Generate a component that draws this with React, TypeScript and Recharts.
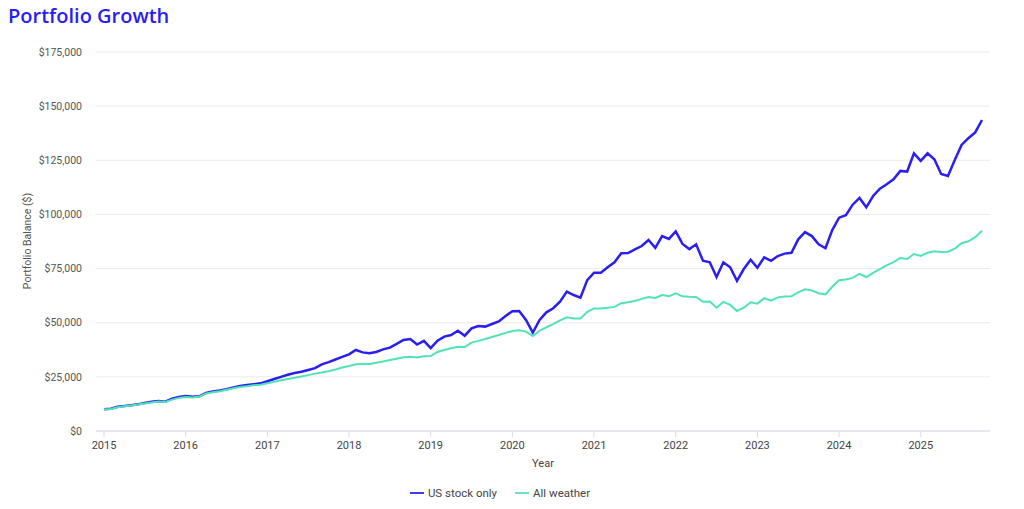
import { LineChart, Line, XAxis, YAxis, CartesianGrid, Legend } from 'recharts';

// monthly balances, Jan 2015 .. Oct 2025
const startYear = 2015;

const usStockOnly = [
  10000, 10300, 11200, 11500, 11900, 12300, 12900, 13500, 13800, 13500, 14900, 15700,
  16100, 15800, 16000, 17600, 18200, 18700, 19300, 20100, 20800, 21200, 21600, 22000,
  23000, 24000, 25000, 26000, 26800, 27400, 28200, 29000, 30800, 31800, 33000, 34200,
  35400, 37400, 36300, 35900, 36500, 37700, 38500, 40200, 42000, 42500, 39900, 41600,
  38300, 41700, 43600, 44300, 46300, 44000, 47400, 48500, 48200, 49400, 50600, 53100,
  55300, 55400, 51300, 45400, 51300, 54800, 56700, 59700, 64400, 62800, 61600, 69700,
  73100, 73100, 75600, 77900, 82100, 82200, 83900, 85400, 88200, 84600, 90000, 88700,
  92200, 86400, 84000, 86200, 78600, 77900, 71100, 77900, 75600, 69300, 74800, 79100,
  75400, 80200, 78600, 80800, 81900, 82300, 88500, 91800, 90000, 86200, 84400, 92800,
  98500, 99600, 104500, 107600, 103300, 108500, 111900, 113900, 116200, 120100, 119800, 128200,
  124700, 128200, 125500, 118700, 117800, 125100, 132100, 135200, 137900, 143600,
];

const allWeather = [
  10000, 10200, 11000, 11400, 11800, 12200, 12700, 13200, 13600, 13400, 14500, 15300,
  15700, 15500, 15900, 17300, 17900, 18400, 19000, 19700, 20300, 20700, 21100, 21400,
  22000, 22700, 23400, 24000, 24600, 25200, 25800, 26500, 27000, 27600, 28400, 29300,
  30000, 30800, 30900, 30900, 31500, 32100, 32800, 33400, 34000, 34300, 33900, 34500,
  34600, 36500, 37400, 38200, 38900, 38800, 40800, 41600, 42500, 43400, 44300, 45300,
  46200, 46500, 45900, 43900, 46300, 47900, 49300, 51100, 52500, 52000, 51900, 55000,
  56600, 56600, 56900, 57300, 59000, 59400, 60000, 61000, 61900, 61400, 62800, 62200,
  63600, 62200, 62000, 61900, 59700, 59800, 56900, 59600, 58200, 55400, 56900, 59400,
  58800, 61300, 60200, 61700, 62100, 62200, 64000, 65400, 64900, 63600, 63100, 66600,
  69600, 70000, 70700, 72500, 71100, 73000, 74700, 76500, 78000, 79900, 79400, 81700,
  80800, 82300, 83000, 82700, 82800, 84200, 86700, 87600, 89500, 92500,
];

const seriesNames = ['US stock only', 'All weather'];
const yearTicks = [2015, 2016, 2017, 2018, 2019, 2020, 2021, 2022, 2023, 2024, 2025];
const balanceTicks = [0, 25000, 50000, 75000, 100000, 125000, 150000, 175000];

const data = usStockOnly.map((v, i) => ({
  t: startYear + i / 12,
  us: v,
  aw: allWeather[i],
}));

const lastT = startYear + (usStockOnly.length - 1) / 12;

const fmtMoney = (v: number) => '$' + v.toLocaleString('en-US');

export default function App() {
  return (
    <div style={{ position: 'fixed', left: 0, top: 0, width: 1024, height: 509, background: '#fff', fontFamily: 'Roboto, sans-serif' }}>
      <div style={{ position: 'absolute', left: 8, top: 6, fontFamily: '"Open Sans", sans-serif', fontSize: 20, lineHeight: '20px', fontWeight: 600, color: '#2a1cf2' }}>
        Portfolio Growth
      </div>
      <LineChart width={1024} height={509} data={data} margin={{ top: 52, right: 34, left: 20, bottom: 12 }}>
        <CartesianGrid vertical={false} stroke="#ebebeb" />
        <XAxis
          dataKey="t"
          type="number"
          domain={[startYear, lastT]}
          ticks={yearTicks}
          tickFormatter={(v: number) => String(v)}
          padding={{ left: 8, right: 8 }}
          height={40}
          stroke="#d6dcea"
          tickSize={6}
          tickMargin={4}
          tick={{ fill: '#444', fontSize: 11 }}
          label={{ value: 'Year', position: 'insideBottom', offset: 4, fill: '#444', fontSize: 11 }}
        />
        <YAxis
          width={76}
          domain={[0, 175000]}
          ticks={balanceTicks}
          tickFormatter={fmtMoney}
          axisLine={false}
          tickLine={false}
          tickMargin={8}
          tick={{ fill: '#555', fontSize: 10.5 }}
          label={{
            content: () => (
              <text x={31} y={241} transform="rotate(-90, 31, 241)" textAnchor="middle" fill="#555" fontSize={10.5}>
                Portfolio Balance ($)
              </text>
            ),
          }}
        />
        <Legend
          verticalAlign="bottom"
          height={26}
          iconType="plainline"
          iconSize={14}
          wrapperStyle={{ bottom: 1, left: 24 }}
          itemSorter={(item: any) => seriesNames.indexOf(item.value)}
          formatter={(value: string) => (
            <span style={{ color: '#444', fontSize: 11.5, marginRight: 8 }}>{value}</span>
          )}
        />
        <Line type="linear" dataKey="us" name={seriesNames[0]} stroke="#2a1ef0" strokeWidth={2.5} dot={false} isAnimationActive={false} />
        <Line type="linear" dataKey="aw" name={seriesNames[1]} stroke="#50e3b5" strokeWidth={2} dot={false} isAnimationActive={false} />
      </LineChart>
    </div>
  );
}
